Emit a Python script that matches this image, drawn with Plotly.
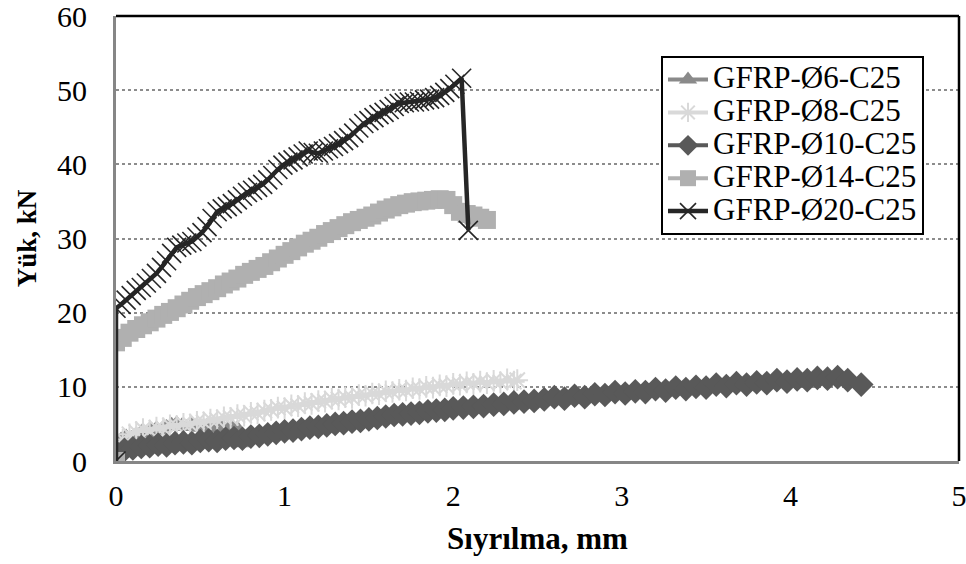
import plotly.graph_objects as go

# ---- data ----
x6 = [0, 0.03, 0.06, 0.09, 0.12, 0.15, 0.18, 0.21, 0.24, 0.27, 0.30, 0.33, 0.36,
      0.39, 0.42, 0.45, 0.48, 0.51, 0.54, 0.57, 0.60, 0.63, 0.66, 0.69, 0.72, 0.75]
y6 = [2.1, 2.9, 3.3, 3.1, 3.6, 3.9, 3.7, 4.2, 4.4, 4.1, 4.6, 4.9, 5.1,
      4.8, 4.6, 4.9, 4.7, 4.5, 4.8, 4.6, 4.4, 4.7, 4.5, 4.6, 4.4, 2.4]

x8 = [0.00, 0.04, 0.08, 0.12, 0.16, 0.20, 0.24, 0.28, 0.32, 0.36, 0.40, 0.44, 0.48,
      0.52, 0.56, 0.60, 0.64, 0.68, 0.72, 0.76, 0.80, 0.84, 0.88, 0.92, 0.96, 1.00,
      1.04, 1.08, 1.12, 1.16, 1.20, 1.24, 1.28, 1.32, 1.36, 1.40, 1.44, 1.48, 1.52,
      1.56, 1.60, 1.64, 1.68, 1.72, 1.76, 1.80, 1.84, 1.88, 1.92, 1.96, 2.00, 2.04,
      2.08, 2.12, 2.16, 2.20, 2.24, 2.28, 2.32, 2.36, 2.38]
y8 = [2.1, 2.9, 3.6, 3.9, 4.3, 4.1, 4.5, 4.4, 4.8, 4.7, 5.0, 4.9, 5.3,
      5.2, 5.6, 5.5, 5.9, 5.8, 6.2, 6.1, 6.5, 6.4, 6.8, 6.9, 7.2, 7.1,
      7.5, 7.4, 7.8, 7.7, 8.1, 8.0, 8.4, 8.3, 8.6, 8.5, 8.9, 8.8, 9.1,
      9.0, 9.4, 9.3, 9.6, 9.5, 9.8, 9.7, 10.0, 9.9, 10.2, 10.1, 10.4, 10.3,
      10.6, 10.4, 10.7, 10.5, 10.8, 10.6, 11.0, 10.7, 10.9]

x10 = [0.00, 0.05, 0.10, 0.15, 0.20, 0.25, 0.30, 0.35, 0.40, 0.45, 0.50, 0.55, 0.60,
       0.65, 0.70, 0.75, 0.80, 0.85, 0.90, 0.95, 1.00, 1.05, 1.10, 1.15, 1.20, 1.25,
       1.30, 1.35, 1.40, 1.45, 1.50, 1.55, 1.60, 1.65, 1.70, 1.75, 1.80, 1.85, 1.90,
       1.95, 2.00, 2.06, 2.12, 2.18, 2.24, 2.30, 2.36, 2.42, 2.48, 2.54, 2.60, 2.66,
       2.72, 2.78, 2.84, 2.90, 2.96, 3.02, 3.08, 3.14, 3.20, 3.26, 3.32, 3.38, 3.44,
       3.50, 3.56, 3.62, 3.68, 3.74, 3.80, 3.86, 3.92, 3.98, 4.04, 4.10, 4.16, 4.22,
       4.28, 4.34, 4.42]
y10 = [1.2, 1.5, 1.7, 1.9, 2.0, 2.2, 2.1, 2.4, 2.5, 2.4, 2.7, 2.8, 2.7,
       3.0, 3.1, 3.0, 3.3, 3.4, 3.6, 3.8, 4.0, 4.1, 4.3, 4.5, 4.6, 4.8,
       5.0, 5.1, 5.3, 5.4, 5.6, 5.8, 6.0, 6.2, 6.3, 6.4, 6.5, 6.7, 6.8,
       6.9, 7.1, 7.2, 7.3, 7.4, 7.6, 7.7, 7.9, 8.0, 8.1, 8.3, 8.6, 8.4,
       8.8, 8.6, 9.0, 8.9, 9.3, 9.1, 9.4, 9.3, 9.7, 9.5, 9.9, 9.7, 10.0,
       9.9, 10.3, 10.1, 10.5, 10.3, 10.6, 10.5, 10.9, 10.7, 11.0, 10.9, 11.2, 11.1,
       11.3, 10.9, 10.3]

x14 = [0, 0, 0.04, 0.08, 0.12, 0.16, 0.20, 0.24, 0.28, 0.32, 0.36, 0.40, 0.44, 0.48,
       0.52, 0.56, 0.60, 0.64, 0.68, 0.72, 0.76, 0.80, 0.84, 0.88, 0.92, 0.96, 1.00,
       1.04, 1.08, 1.12, 1.16, 1.20, 1.24, 1.28, 1.32, 1.36, 1.40, 1.44, 1.48, 1.52,
       1.56, 1.60, 1.64, 1.68, 1.72, 1.76, 1.80, 1.84, 1.88, 1.92, 1.96, 2.00, 2.04,
       2.08, 2.12, 2.16, 2.20]
y14 = [0, 16.0, 16.6, 17.3, 17.8, 18.3, 18.7, 19.2, 19.7, 20.1, 20.6, 21.1, 21.6, 22.1,
       22.5, 22.9, 23.3, 23.8, 24.2, 24.6, 25.1, 25.5, 25.9, 26.3, 26.8, 27.3, 27.8,
       28.3, 28.8, 29.3, 29.7, 30.1, 30.6, 31.0, 31.4, 31.8, 32.2, 32.5, 32.8, 33.1,
       33.5, 33.9, 34.2, 34.5, 34.7, 34.9, 35.0, 35.1, 35.2, 35.3, 35.2, 34.5, 33.6,
       33.3, 33.1, 32.8, 32.5]

x20 = [0, 0, 0.03, 0.06, 0.09, 0.12, 0.15, 0.18, 0.21, 0.24, 0.27, 0.30, 0.33, 0.36,
       0.39, 0.42, 0.45, 0.48, 0.51, 0.54, 0.57, 0.60, 0.63, 0.66, 0.69, 0.72, 0.75,
       0.78, 0.81, 0.84, 0.87, 0.90, 0.93, 0.96, 0.99, 1.02, 1.05, 1.08, 1.11, 1.14,
       1.17, 1.20, 1.23, 1.26, 1.29, 1.32, 1.35, 1.38, 1.41, 1.44, 1.47, 1.50, 1.53,
       1.56, 1.59, 1.62, 1.65, 1.68, 1.71, 1.74, 1.77, 1.80, 1.83, 1.86, 1.89, 1.92,
       1.95, 1.98, 2.01, 2.05, 2.09]
y20 = [0, 20.6, 21.1, 21.7, 22.3, 23.0, 23.4, 24.0, 24.6, 25.3, 26.1, 27.0, 28.0, 28.8,
       29.1, 29.4, 29.6, 30.2, 30.8, 31.6, 32.7, 33.6, 34.0, 34.3, 34.7, 35.2, 35.7,
       36.2, 36.5, 36.9, 37.3, 37.9, 38.5, 39.3, 39.9, 40.3, 40.6, 41.0, 41.4, 41.8,
       41.6, 41.5, 41.8, 42.1, 42.4, 42.8, 43.2, 43.6, 44.2, 44.9, 45.5, 45.9, 46.3,
       46.7, 47.0, 47.4, 47.8, 48.2, 48.3, 48.4, 48.4, 48.5, 48.7, 48.8, 49.0, 49.3,
       49.7, 50.2, 50.8, 51.6, 31.1]

names = ["GFRP-Ø6-C25", "GFRP-Ø8-C25", "GFRP-Ø10-C25", "GFRP-Ø14-C25", "GFRP-Ø20-C25"]
x_ticks = [0, 1, 2, 3, 4, 5]
y_ticks = [0, 10, 20, 30, 40, 50, 60]

FONT = "Liberation Serif, Times New Roman, serif"


def lg(name):
    # larger legend text while keeping compact row spacing
    return "<span style='font-size:31px'>" + name + "</span>"


fig = go.Figure()
fig.add_trace(go.Scatter(x=x6, y=y6, name=lg(names[0]), mode="lines+markers",
                         line=dict(color="#8a8a8a", width=4),
                         marker=dict(symbol="triangle-up", size=16, color="#8a8a8a")))
fig.add_trace(go.Scatter(x=x8, y=y8, name=lg(names[1]), mode="lines+markers",
                         line=dict(color="#d9d9d9", width=4),
                         marker=dict(symbol="asterisk-open", size=18, color="#d9d9d9",
                                     line=dict(color="#d9d9d9", width=2))))
fig.add_trace(go.Scatter(x=x10, y=y10, name=lg(names[2]), mode="lines+markers",
                         line=dict(color="#595959", width=4),
                         marker=dict(symbol="diamond", size=19, color="#595959")))
fig.add_trace(go.Scatter(x=x14, y=y14, name=lg(names[3]), mode="lines+markers",
                         line=dict(color="#b0b0b0", width=4),
                         marker=dict(symbol="square", size=18, color="#b0b0b0")))
fig.add_trace(go.Scatter(x=x20, y=y20, name=lg(names[4]), mode="lines+markers",
                         line=dict(color="#262626", width=4.5),
                         marker=dict(symbol="x-thin-open", size=19, color="#262626",
                                     line=dict(color="#262626", width=1.6))))

fig.update_layout(
    width=966, height=564,
    margin=dict(l=116, r=7, t=16, b=103, autoexpand=False),
    paper_bgcolor="white", plot_bgcolor="white",
    font=dict(family=FONT, size=30, color="black"),
    showlegend=True,
    legend=dict(x=0.6465, y=0.91, xanchor="left", yanchor="top",
                bgcolor="white", bordercolor="black", borderwidth=2,
                font=dict(family=FONT, size=23, color="black"),
                tracegroupgap=0, itemwidth=40),
    xaxis=dict(range=[0, 5], tickvals=x_ticks, showgrid=False, zeroline=False,
               automargin=False,
               showline=True, linecolor="#868686", linewidth=3, mirror=False,
               ticks="", ticklabelstandoff=6, ticklabeloverflow="allow",
               tickfont=dict(size=30),
               title=dict(text="<b>Sıyrılma, mm</b>", font=dict(size=31), standoff=17)),
    yaxis=dict(range=[0, 60], tickvals=y_ticks, showgrid=True, gridcolor="#8c8c8c",
               griddash="dot", gridwidth=1.5, zeroline=False,
               automargin=False,
               showline=True, linecolor="#868686", linewidth=3,
               ticks="", ticklabelstandoff=20, ticklabeloverflow="allow",
               tickfont=dict(size=30),
               title=dict(text="<b>Yük, kN</b>", font=dict(size=27), standoff=13)),
)
# top and right border of the plot area (black)
fig.add_shape(type="line", xref="paper", yref="paper", x0=0, x1=1, y0=1, y1=1,
              line=dict(color="black", width=2.5))
fig.add_shape(type="line", xref="paper", yref="paper", x0=1, x1=1, y0=0, y1=1,
              line=dict(color="black", width=2.5))

fig.write_html("out.html")
